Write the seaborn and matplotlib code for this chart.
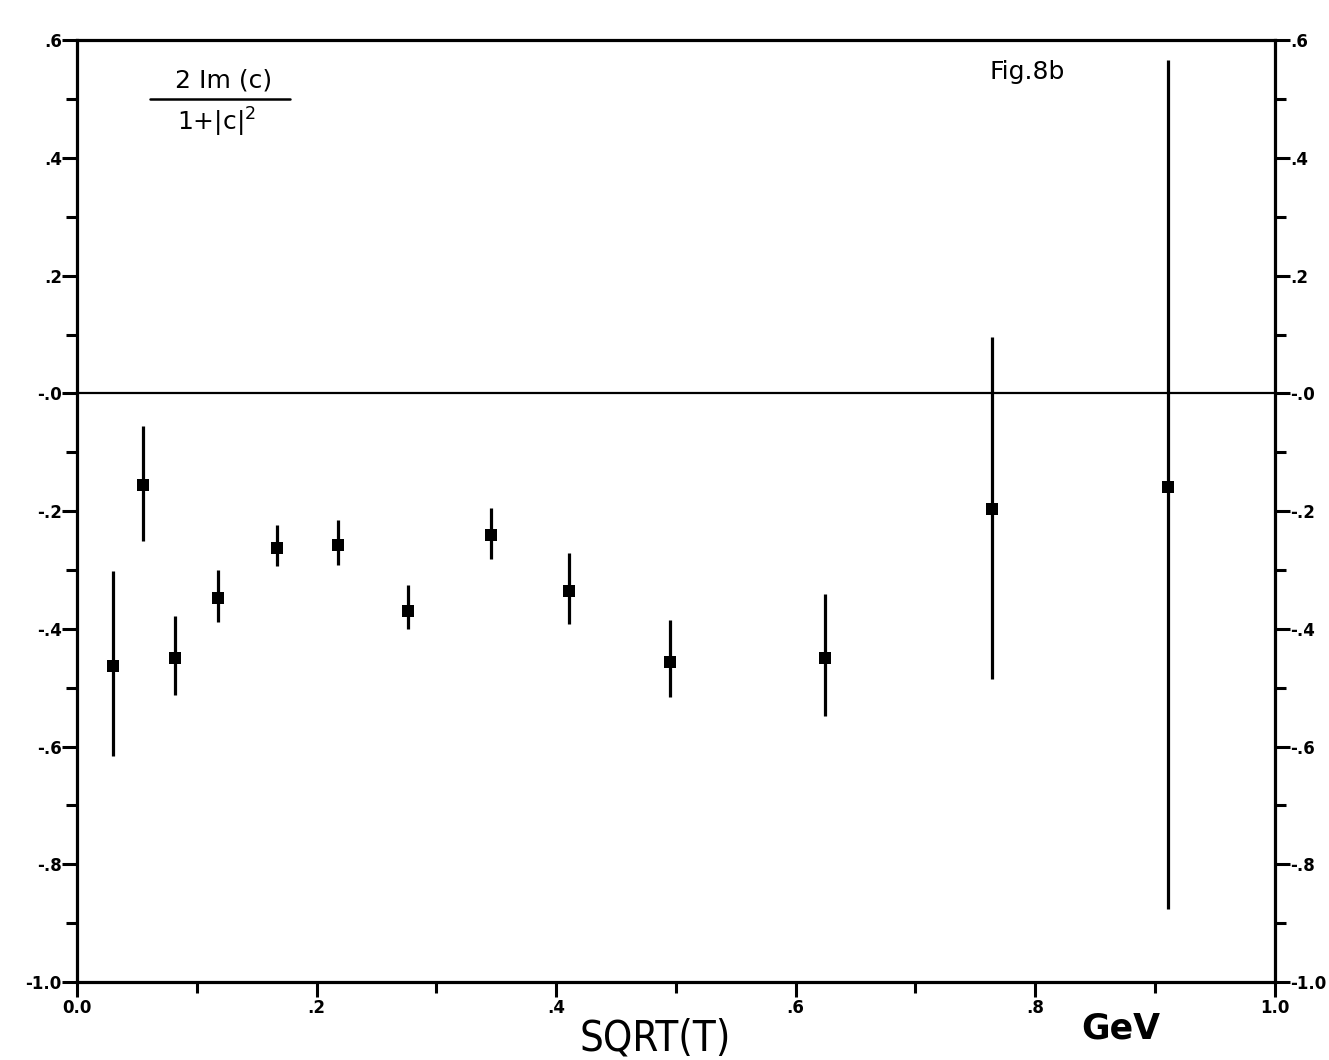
import numpy as np
import pandas as pd
import matplotlib
matplotlib.use("Agg")
import matplotlib.pyplot as plt
import seaborn as sns
from matplotlib.ticker import MultipleLocator

# data
sqrt_t = [0.030, 0.055, 0.082, 0.118, 0.167, 0.218, 0.276, 0.346, 0.411, 0.495, 0.625, 0.764, 0.911]
im_c   = [-0.463, -0.156, -0.449, -0.348, -0.262, -0.257, -0.369, -0.240, -0.336, -0.456, -0.449, -0.197, -0.159]
bar_top = [-0.301, -0.056, -0.379, -0.300, -0.223, -0.215, -0.325, -0.194, -0.271, -0.385, -0.340, 0.096, 0.566]
bar_bot = [-0.616, -0.251, -0.512, -0.389, -0.293, -0.291, -0.400, -0.281, -0.392, -0.515, -0.548, -0.486, -0.876]

x_ticks = [0.0, 0.2, 0.4, 0.6, 0.8, 1.0]
x_ticklabels = ["0.0", ".2", ".4", ".6", ".8", "1.0"]
y_ticks = [0.6, 0.4, 0.2, 0.0, -0.2, -0.4, -0.6, -0.8, -1.0]
y_ticklabels = [".6", ".4", ".2", "-.0", "-.2", "-.4", "-.6", "-.8", "-1.0"]

df = pd.DataFrame({"x": sqrt_t, "y": im_c, "top": bar_top, "bot": bar_bot})
df["err_lo"] = df["y"] - df["bot"]
df["err_hi"] = df["top"] - df["y"]

sns.set_style("ticks")
plt.rcParams["font.family"] = ["DejaVu Sans"]
plt.rcParams["text.color"] = "black"
plt.rcParams["xtick.color"] = "black"
plt.rcParams["ytick.color"] = "black"

fig = plt.figure(figsize=(13.29, 10.60), dpi=100)
ax = fig.add_axes([0.058, 0.0736, 0.901, 0.8884])

###############################################################################
# error bars + points
ax.errorbar(df["x"], df["y"], yerr=[df["err_lo"], df["err_hi"]], fmt="none",
            ecolor="black", elinewidth=2.3, capsize=0, zorder=2)
sns.scatterplot(data=df, x="x", y="y", ax=ax, marker="s", s=75,
                color="black", edgecolor="black", linewidth=0, zorder=3)

ax.axhline(0, color="black", lw=1.6, zorder=1)

###############################################################################
# axes
ax.set_xlim(0, 1.0)
ax.set_ylim(-1.0, 0.6)
ax.set_xticks(x_ticks)
ax.set_xticklabels(x_ticklabels)
ax.set_yticks(y_ticks)
ax.set_yticklabels(y_ticklabels)
ax.xaxis.set_minor_locator(MultipleLocator(0.1))
ax.yaxis.set_minor_locator(MultipleLocator(0.1))
ax.tick_params(which="both", direction="out", width=2.2, color="black",
               labelcolor="black", labelsize=12,
               left=True, right=True, labelleft=True, labelright=True)
ax.tick_params(which="major", length=11, pad=1)
ax.tick_params(which="minor", length=8)
ax.tick_params(axis="y", which="major", labelright=True, pad=0)
for lab in ax.get_xticklabels() + ax.get_yticklabels():
    lab.set_fontweight("bold")
for sp in ax.spines.values():
    sp.set_visible(True)
    sp.set_linewidth(2.3)
    sp.set_color("black")
ax.set_xlabel("")
ax.set_ylabel("")

###############################################################################
# annotations
fig.text(0.168, 0.924, "2 Im (c)", fontsize=18, ha="center", va="center", color="black")
fig.add_artist(plt.Line2D([0.113, 0.218], [0.907, 0.907], color="black", lw=1.8))
fig.text(0.163, 0.885, "1+|c|$^2$", fontsize=18, ha="center", va="center", color="black")
fig.text(0.773, 0.932, "Fig.8b", fontsize=18, ha="center", va="center", color="black")

fig.text(0.493, 0.020, "SQRT(T)", fontsize=30, ha="center", va="center", color="black",
         family=["Liberation Sans Narrow", "DejaVu Sans"], fontstretch="condensed")
fig.text(0.843, 0.030, "GeV", fontsize=25, ha="center", va="center",
         fontweight="bold", color="black")

fig.savefig("out.png", dpi=100, facecolor="white")
